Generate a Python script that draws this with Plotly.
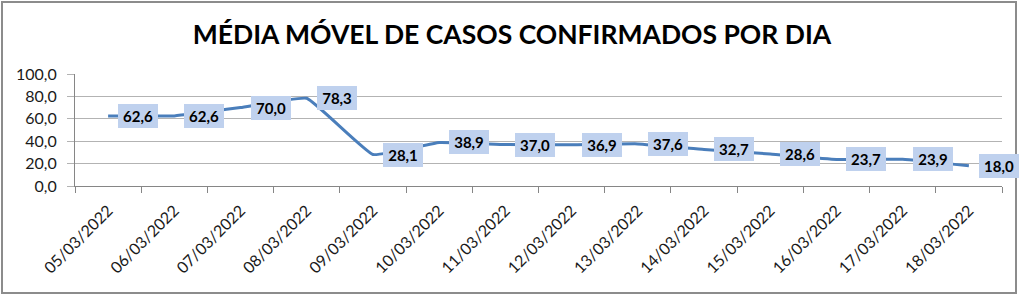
import plotly.graph_objects as go

dates = ["05/03/2022", "06/03/2022", "07/03/2022", "08/03/2022", "09/03/2022",
         "10/03/2022", "11/03/2022", "12/03/2022", "13/03/2022", "14/03/2022",
         "15/03/2022", "16/03/2022", "17/03/2022", "18/03/2022"]
media_movel = [62.6, 62.6, 70.0, 78.3, 28.1, 38.9, 37.0, 36.9, 37.6, 32.7, 28.6, 23.7, 23.9, 18.0]
y_ticks = [0, 20, 40, 60, 80, 100]

W, H = 1024, 296
ML, MR, MT, MB = 75, 22, 74, 110

fig = go.Figure()
fig.add_trace(go.Scatter(
    x=dates, y=media_movel, mode="lines",
    line=dict(color="#4a7ebb", width=3, shape="spline", smoothing=0.3),
    hoverinfo="skip", showlegend=False,
))

def fmt(v):
    return f"{v:.1f}".replace(".", ",")

for d, v in zip(dates, media_movel):
    fig.add_annotation(
        x=d, y=v, xref="x", yref="y", text=f"<b>{fmt(v)}</b>",
        showarrow=False, xanchor="left", yanchor="middle", xshift=10,
        width=38, height=22, borderpad=1, align="center",
        bgcolor="#bfd1ee", bordercolor="#e4ecf8", borderwidth=0,
        font=dict(family="Lato", size=15, color="#000000"),
    )

pw = W - ML - MR
ph = H - MT - MB
fig.add_shape(
    type="rect", xref="paper", yref="paper",
    x0=(2 - ML) / pw, x1=(1016 - ML) / pw,
    y0=(H - MB - 293) / ph, y1=(H - MB - 2) / ph,
    line=dict(color="#8c8c8c", width=2), fillcolor="rgba(0,0,0,0)", layer="below",
)

fig.update_layout(
    width=W, height=H,
    margin=dict(l=ML, r=MR, t=MT, b=MB),
    paper_bgcolor="white", plot_bgcolor="white",
    separators=",.",
    title=dict(text="<b>MÉDIA MÓVEL DE CASOS CONFIRMADOS POR DIA</b>",
               x=0.5, xanchor="center", y=1 - 35 / H, yanchor="middle",
               font=dict(family="Lato", size=26.5, color="#000000")),
    xaxis=dict(type="category", range=[-0.5, len(dates) - 0.5],
               tickson="boundaries", ticks="outside", ticklen=6,
               tickcolor="#868686", showline=True, linecolor="#868686", linewidth=1,
               showgrid=False, tickangle=-45, ticklabelstandoff=8,
               tickfont=dict(family="Lato", size=16, color="#1a1a1a")),
    yaxis=dict(range=[0, 100], tickvals=y_ticks, tickformat=".1f",
               showgrid=True, gridcolor="#b3b3b3", gridwidth=1,
               showline=True, linecolor="#868686", linewidth=1,
               ticks="outside", ticklen=7, tickcolor="#b3b3b3",
               ticklabelstandoff=7, zeroline=False,
               tickfont=dict(family="Lato", size=16, color="#1a1a1a")),
)

fig.write_html("out.html")
